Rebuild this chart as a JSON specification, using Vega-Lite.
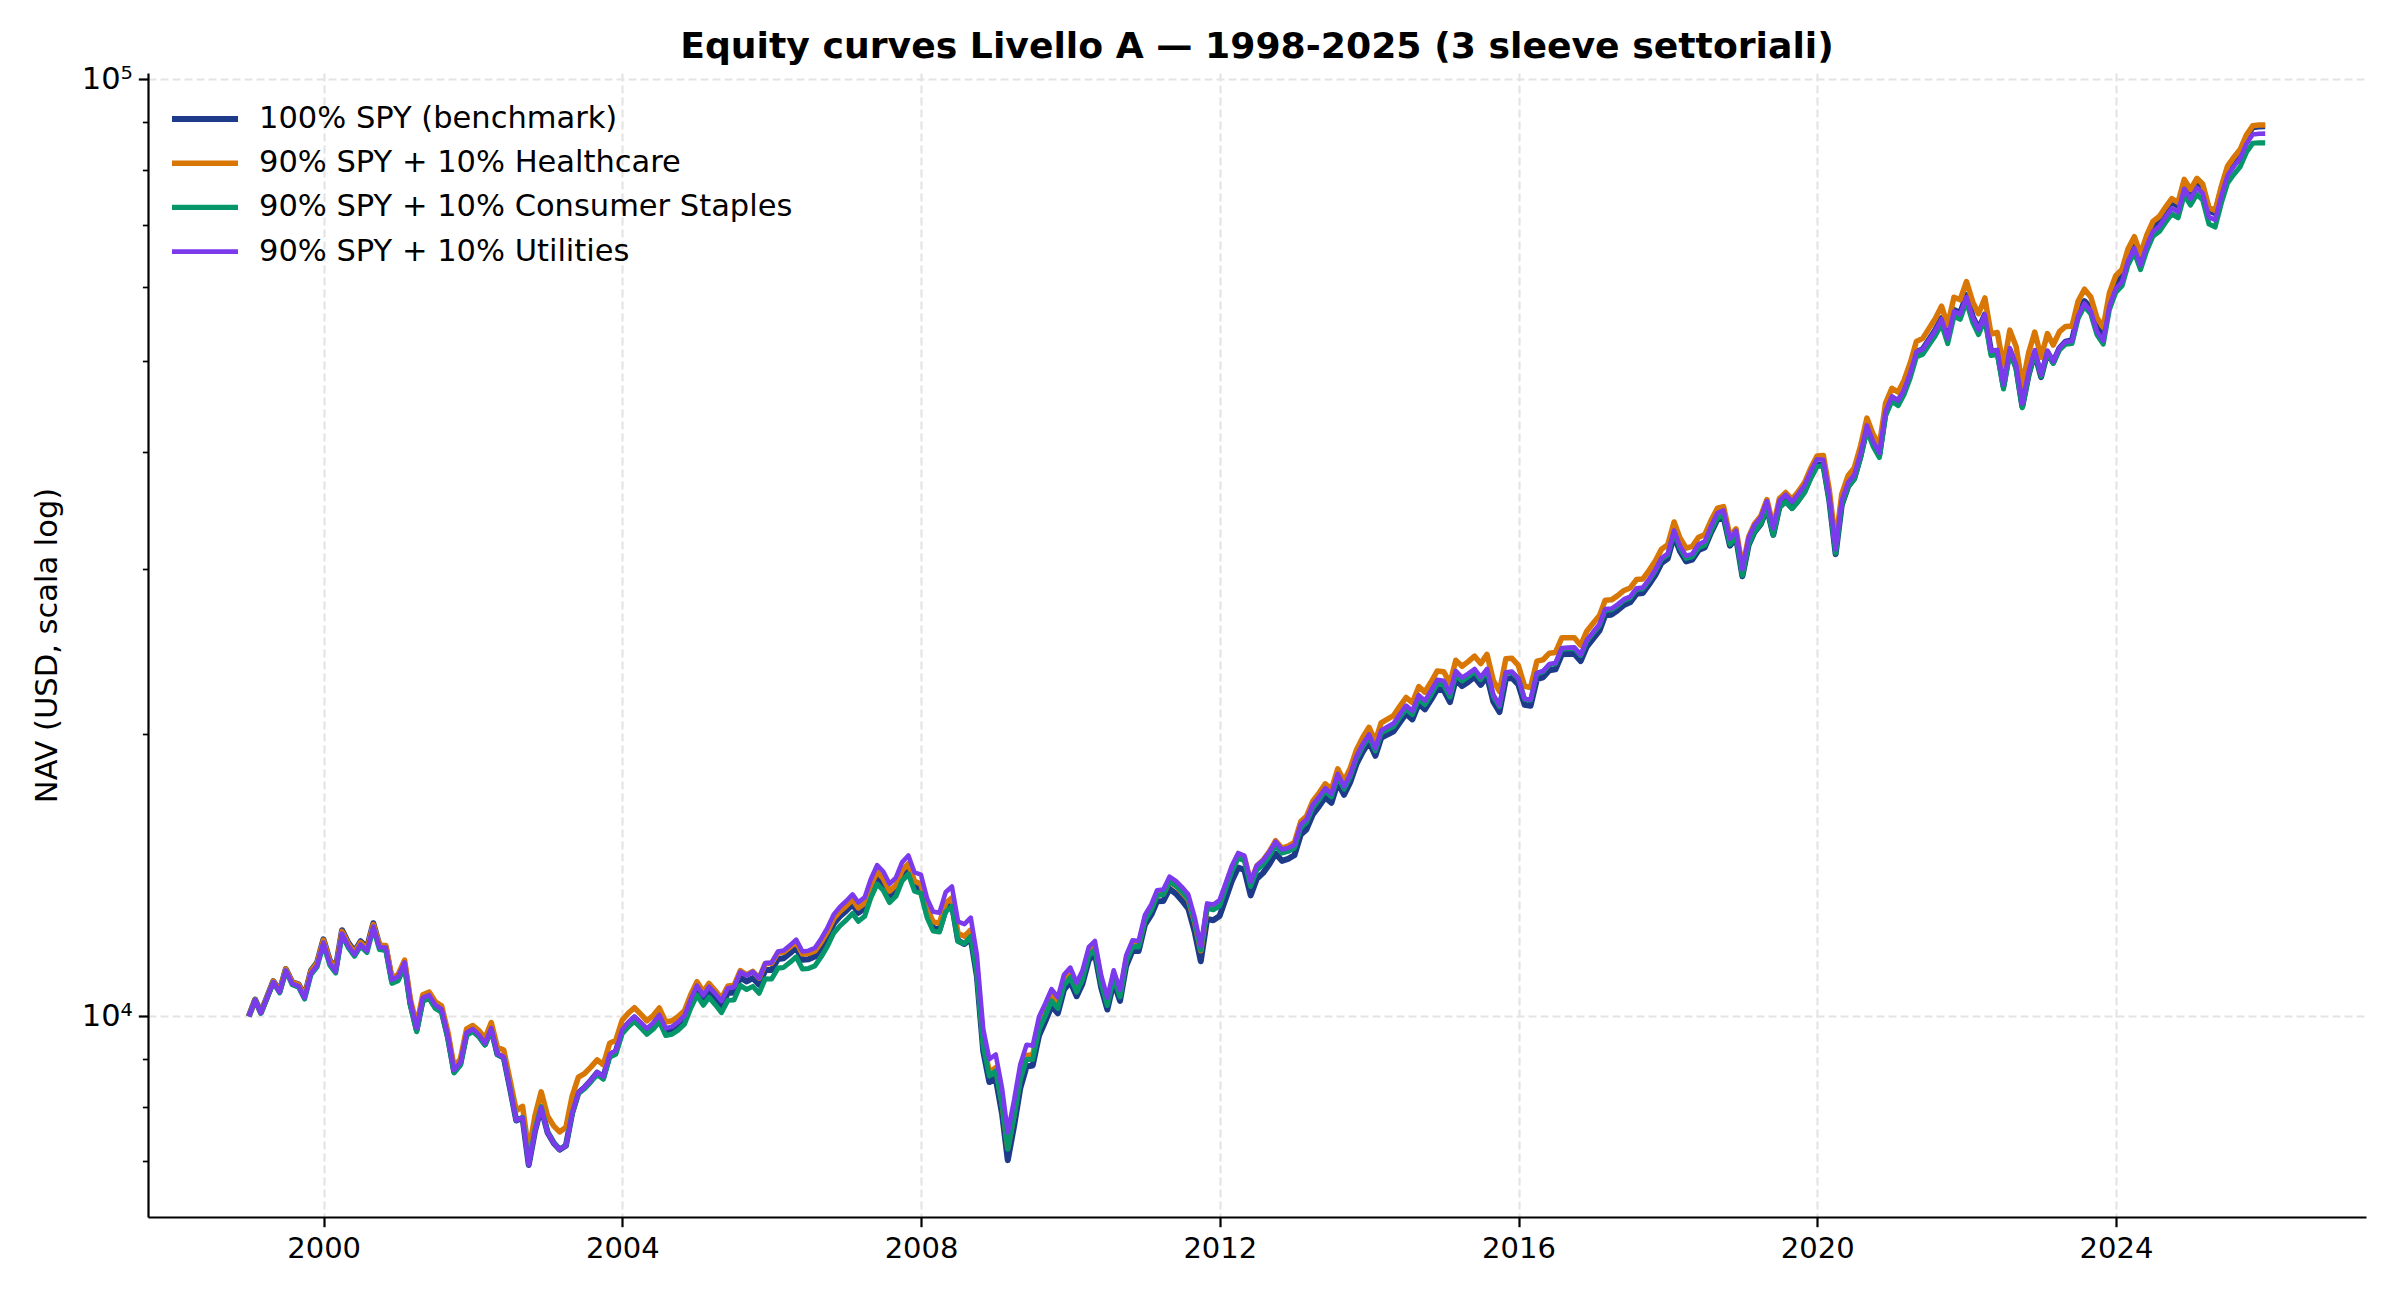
{
  "$schema": "https://vega.github.io/schema/vega-lite/v6.json",
  "width": 2218,
  "height": 1144,
  "autosize": {"type": "none"},
  "padding": {"left": 148, "top": 73, "right": 34, "bottom": 83},
  "background": "white",
  "config": {"view": {"stroke": null}, "font": "DejaVu Sans"},
  "title": {
    "text": "Equity curves Livello A — 1998-2025 (3 sleeve settoriali)",
    "font": "DejaVu Sans",
    "fontSize": 36.2,
    "fontWeight": "bold",
    "color": "black",
    "anchor": "middle",
    "baseline": "alphabetic",
    "offset": -30
  },
  "data": {
    "values": [
      {"d":"1998-12-31","spy":10000,"hc":10000,"cs":10000,"ut":10000},
      {"d":"1999-01-31","spy":10420,"hc":10420,"cs":10412,"ut":10415},
      {"d":"1999-02-28","spy":10093,"hc":10093,"cs":10076,"ut":10083},
      {"d":"1999-03-31","spy":10494,"hc":10494,"cs":10468,"ut":10478},
      {"d":"1999-04-30","spy":10902,"hc":10902,"cs":10866,"ut":10880},
      {"d":"1999-05-31","spy":10639,"hc":10639,"cs":10594,"ut":10612},
      {"d":"1999-06-30","spy":11229,"hc":11229,"cs":11173,"ut":11195},
      {"d":"1999-07-31","spy":10879,"hc":10876,"cs":10812,"ut":10838},
      {"d":"1999-08-31","spy":10821,"hc":10813,"cs":10742,"ut":10770},
      {"d":"1999-09-30","spy":10521,"hc":10510,"cs":10432,"ut":10463},
      {"d":"1999-10-31","spy":11189,"hc":11174,"cs":11080,"ut":11119},
      {"d":"1999-11-30","spy":11413,"hc":11394,"cs":11290,"ut":11331},
      {"d":"1999-12-31","spy":12084,"hc":12060,"cs":11939,"ut":11987},
      {"d":"2000-01-31","spy":11479,"hc":11453,"cs":11341,"ut":11387},
      {"d":"2000-02-29","spy":11258,"hc":11228,"cs":11123,"ut":11168},
      {"d":"2000-03-31","spy":12358,"hc":12321,"cs":12210,"ut":12259},
      {"d":"2000-04-30","spy":11987,"hc":11951,"cs":11843,"ut":11891},
      {"d":"2000-05-31","spy":11735,"hc":11700,"cs":11594,"ut":11641},
      {"d":"2000-06-30","spy":12026,"hc":11990,"cs":11882,"ut":11930},
      {"d":"2000-07-31","spy":11840,"hc":11804,"cs":11698,"ut":11745},
      {"d":"2000-08-31","spy":12570,"hc":12532,"cs":12419,"ut":12469},
      {"d":"2000-09-30","spy":11908,"hc":11912,"cs":11785,"ut":11851},
      {"d":"2000-10-31","spy":11859,"hc":11901,"cs":11758,"ut":11841},
      {"d":"2000-11-30","spy":10919,"hc":10993,"cs":10845,"ut":10939},
      {"d":"2000-12-31","spy":10973,"hc":11083,"cs":10918,"ut":11028},
      {"d":"2001-01-31","spy":11365,"hc":11482,"cs":11310,"ut":11420},
      {"d":"2001-02-28","spy":10326,"hc":10436,"cs":10277,"ut":10375},
      {"d":"2001-03-31","spy":9674,"hc":9780,"cs":9630,"ut":9718},
      {"d":"2001-04-30","spy":10427,"hc":10545,"cs":10382,"ut":10472},
      {"d":"2001-05-31","spy":10491,"hc":10614,"cs":10447,"ut":10535},
      {"d":"2001-06-30","spy":10240,"hc":10363,"cs":10199,"ut":10281},
      {"d":"2001-07-31","spy":10140,"hc":10262,"cs":10101,"ut":10179},
      {"d":"2001-08-31","spy":9500,"hc":9614,"cs":9465,"ut":9535},
      {"d":"2001-09-30","spy":8732,"hc":8837,"cs":8701,"ut":8763},
      {"d":"2001-10-31","spy":8900,"hc":9007,"cs":8871,"ut":8929},
      {"d":"2001-11-30","spy":9578,"hc":9693,"cs":9547,"ut":9609},
      {"d":"2001-12-31","spy":9661,"hc":9777,"cs":9632,"ut":9690},
      {"d":"2002-01-31","spy":9523,"hc":9650,"cs":9500,"ut":9549},
      {"d":"2002-02-28","spy":9337,"hc":9474,"cs":9320,"ut":9359},
      {"d":"2002-03-31","spy":9693,"hc":9848,"cs":9681,"ut":9713},
      {"d":"2002-04-30","spy":9109,"hc":9267,"cs":9104,"ut":9125},
      {"d":"2002-05-31","spy":9038,"hc":9207,"cs":9038,"ut":9052},
      {"d":"2002-06-30","spy":8394,"hc":8562,"cs":8399,"ut":8404},
      {"d":"2002-07-31","spy":7741,"hc":7931,"cs":7750,"ut":7748},
      {"d":"2002-08-31","spy":7789,"hc":8015,"cs":7803,"ut":7794},
      {"d":"2002-09-30","spy":6940,"hc":7172,"cs":6957,"ut":6942},
      {"d":"2002-10-31","spy":7550,"hc":7837,"cs":7573,"ut":7550},
      {"d":"2002-11-30","spy":7991,"hc":8307,"cs":8010,"ut":7991},
      {"d":"2002-12-31","spy":7519,"hc":7829,"cs":7533,"ut":7519},
      {"d":"2003-01-31","spy":7322,"hc":7635,"cs":7331,"ut":7322},
      {"d":"2003-02-28","spy":7207,"hc":7527,"cs":7211,"ut":7207},
      {"d":"2003-03-31","spy":7277,"hc":7612,"cs":7277,"ut":7277},
      {"d":"2003-04-30","spy":7877,"hc":8210,"cs":7870,"ut":7879},
      {"d":"2003-05-31","spy":8289,"hc":8610,"cs":8274,"ut":8292},
      {"d":"2003-06-30","spy":8394,"hc":8688,"cs":8371,"ut":8400},
      {"d":"2003-07-31","spy":8541,"hc":8827,"cs":8510,"ut":8549},
      {"d":"2003-08-31","spy":8706,"hc":8985,"cs":8668,"ut":8716},
      {"d":"2003-09-30","spy":8613,"hc":8876,"cs":8567,"ut":8624},
      {"d":"2003-10-31","spy":9098,"hc":9362,"cs":9042,"ut":9113},
      {"d":"2003-11-30","spy":9175,"hc":9427,"cs":9110,"ut":9192},
      {"d":"2003-12-31","spy":9654,"hc":9905,"cs":9577,"ut":9673},
      {"d":"2004-01-31","spy":9834,"hc":10083,"cs":9749,"ut":9859},
      {"d":"2004-02-29","spy":9968,"hc":10214,"cs":9876,"ut":9998},
      {"d":"2004-03-31","spy":9818,"hc":10054,"cs":9722,"ut":9852},
      {"d":"2004-04-30","spy":9666,"hc":9891,"cs":9566,"ut":9705},
      {"d":"2004-05-31","spy":9797,"hc":10019,"cs":9690,"ut":9841},
      {"d":"2004-06-30","spy":9986,"hc":10206,"cs":9871,"ut":10036},
      {"d":"2004-07-31","spy":9657,"hc":9863,"cs":9540,"ut":9710},
      {"d":"2004-08-31","spy":9692,"hc":9893,"cs":9569,"ut":9750},
      {"d":"2004-09-30","spy":9797,"hc":9993,"cs":9667,"ut":9861},
      {"d":"2004-10-31","spy":9947,"hc":10139,"cs":9810,"ut":10017},
      {"d":"2004-11-30","spy":10345,"hc":10538,"cs":10196,"ut":10423},
      {"d":"2004-12-31","spy":10696,"hc":10889,"cs":10536,"ut":10782},
      {"d":"2005-01-31","spy":10440,"hc":10626,"cs":10277,"ut":10532},
      {"d":"2005-02-28","spy":10653,"hc":10842,"cs":10480,"ut":10756},
      {"d":"2005-03-31","spy":10464,"hc":10647,"cs":10288,"ut":10574},
      {"d":"2005-04-30","spy":10269,"hc":10447,"cs":10091,"ut":10385},
      {"d":"2005-05-31","spy":10592,"hc":10774,"cs":10402,"ut":10721},
      {"d":"2005-06-30","spy":10605,"hc":10785,"cs":10409,"ut":10743},
      {"d":"2005-07-31","spy":11003,"hc":11188,"cs":10793,"ut":11155},
      {"d":"2005-08-31","spy":10895,"hc":11077,"cs":10680,"ut":11055},
      {"d":"2005-09-30","spy":10987,"hc":11168,"cs":10764,"ut":11157},
      {"d":"2005-10-31","spy":10807,"hc":10983,"cs":10582,"ut":10983},
      {"d":"2005-11-30","spy":11204,"hc":11386,"cs":10964,"ut":11397},
      {"d":"2005-12-31","spy":11209,"hc":11388,"cs":10962,"ut":11411},
      {"d":"2006-01-31","spy":11512,"hc":11693,"cs":11258,"ut":11725},
      {"d":"2006-02-28","spy":11534,"hc":11710,"cs":11278,"ut":11753},
      {"d":"2006-03-31","spy":11679,"hc":11854,"cs":11419,"ut":11907},
      {"d":"2006-04-30","spy":11839,"hc":12013,"cs":11575,"ut":12076},
      {"d":"2006-05-31","spy":11491,"hc":11655,"cs":11234,"ut":11727},
      {"d":"2006-06-30","spy":11509,"hc":11670,"cs":11250,"ut":11751},
      {"d":"2006-07-31","spy":11584,"hc":11743,"cs":11322,"ut":11833},
      {"d":"2006-08-31","spy":11848,"hc":12006,"cs":11579,"ut":12109},
      {"d":"2006-09-30","spy":12157,"hc":12315,"cs":11880,"ut":12431},
      {"d":"2006-10-31","spy":12559,"hc":12718,"cs":12273,"ut":12848},
      {"d":"2006-11-30","spy":12785,"hc":12942,"cs":12492,"ut":13085},
      {"d":"2006-12-31","spy":12965,"hc":13121,"cs":12667,"ut":13276},
      {"d":"2007-01-31","spy":13167,"hc":13325,"cs":12877,"ut":13495},
      {"d":"2007-02-28","spy":12899,"hc":13054,"cs":12628,"ut":13232},
      {"d":"2007-03-31","spy":13047,"hc":13204,"cs":12786,"ut":13395},
      {"d":"2007-04-30","spy":13632,"hc":13796,"cs":13373,"ut":14008},
      {"d":"2007-05-31","spy":14097,"hc":14266,"cs":13843,"ut":14499},
      {"d":"2007-06-30","spy":13867,"hc":14033,"cs":13631,"ut":14275},
      {"d":"2007-07-31","spy":13443,"hc":13604,"cs":13228,"ut":13850},
      {"d":"2007-08-31","spy":13636,"hc":13800,"cs":13431,"ut":14061},
      {"d":"2007-09-30","spy":14145,"hc":14315,"cs":13947,"ut":14599},
      {"d":"2007-10-31","spy":14376,"hc":14549,"cs":14189,"ut":14850},
      {"d":"2007-11-30","spy":13763,"hc":13939,"cs":13603,"ut":14243},
      {"d":"2007-12-31","spy":13665,"hc":13849,"cs":13524,"ut":14168},
      {"d":"2008-01-31","spy":12852,"hc":13036,"cs":12738,"ut":13348},
      {"d":"2008-02-29","spy":12428,"hc":12614,"cs":12335,"ut":12931},
      {"d":"2008-03-31","spy":12377,"hc":12573,"cs":12302,"ut":12902},
      {"d":"2008-04-30","spy":12989,"hc":13203,"cs":12927,"ut":13564},
      {"d":"2008-05-31","spy":13151,"hc":13379,"cs":13106,"ut":13757},
      {"d":"2008-06-30","spy":12043,"hc":12260,"cs":12019,"ut":12621},
      {"d":"2008-07-31","spy":11945,"hc":12176,"cs":11961,"ut":12542},
      {"d":"2008-08-31","spy":12113,"hc":12364,"cs":12170,"ut":12743},
      {"d":"2008-09-30","spy":11033,"hc":11276,"cs":11121,"ut":11629},
      {"d":"2008-10-31","spy":9180,"hc":9394,"cs":9284,"ut":9694},
      {"d":"2008-11-30","spy":8508,"hc":8718,"cs":8633,"ut":9001},
      {"d":"2008-12-31","spy":8590,"hc":8813,"cs":8745,"ut":9105},
      {"d":"2009-01-31","spy":7872,"hc":8092,"cs":8049,"ut":8384},
      {"d":"2009-02-28","spy":7023,"hc":7234,"cs":7213,"ut":7515},
      {"d":"2009-03-31","spy":7640,"hc":7863,"cs":7823,"ut":8137},
      {"d":"2009-04-30","spy":8376,"hc":8614,"cs":8552,"ut":8879},
      {"d":"2009-05-31","spy":8840,"hc":9084,"cs":8999,"ut":9326},
      {"d":"2009-06-30","spy":8862,"hc":9100,"cs":8995,"ut":9305},
      {"d":"2009-07-31","spy":9540,"hc":9788,"cs":9675,"ut":9993},
      {"d":"2009-08-31","spy":9882,"hc":10131,"cs":10013,"ut":10327},
      {"d":"2009-09-30","spy":10257,"hc":10507,"cs":10385,"ut":10693},
      {"d":"2009-10-31","spy":10077,"hc":10315,"cs":10195,"ut":10480},
      {"d":"2009-11-30","spy":10678,"hc":10921,"cs":10793,"ut":11078},
      {"d":"2009-12-31","spy":10892,"hc":11132,"cs":11001,"ut":11273},
      {"d":"2010-01-31","spy":10507,"hc":10731,"cs":10612,"ut":10865},
      {"d":"2010-02-28","spy":10825,"hc":11049,"cs":10933,"ut":11184},
      {"d":"2010-03-31","spy":11480,"hc":11710,"cs":11595,"ut":11851},
      {"d":"2010-04-30","spy":11669,"hc":11894,"cs":11786,"ut":12034},
      {"d":"2010-05-31","spy":10730,"hc":10931,"cs":10837,"ut":11056},
      {"d":"2010-06-30","spy":10169,"hc":10352,"cs":10271,"ut":10469},
      {"d":"2010-07-31","spy":10886,"hc":11074,"cs":10995,"ut":11197},
      {"d":"2010-08-31","spy":10386,"hc":10559,"cs":10490,"ut":10674},
      {"d":"2010-09-30","spy":11314,"hc":11495,"cs":11427,"ut":11617},
      {"d":"2010-10-31","spy":11751,"hc":11931,"cs":11869,"ut":12054},
      {"d":"2010-11-30","spy":11743,"hc":11916,"cs":11860,"ut":12035},
      {"d":"2010-12-31","spy":12530,"hc":12705,"cs":12655,"ut":12831},
      {"d":"2011-01-31","spy":12836,"hc":13029,"cs":12990,"ut":13165},
      {"d":"2011-02-28","spy":13270,"hc":13482,"cs":13456,"ut":13630},
      {"d":"2011-03-31","spy":13279,"hc":13505,"cs":13491,"ut":13660},
      {"d":"2011-04-30","spy":13681,"hc":13927,"cs":13927,"ut":14094},
      {"d":"2011-05-31","spy":13520,"hc":13777,"cs":13790,"ut":13950},
      {"d":"2011-06-30","spy":13296,"hc":13562,"cs":13589,"ut":13739},
      {"d":"2011-07-31","spy":13033,"hc":13320,"cs":13346,"ut":13488},
      {"d":"2011-08-31","spy":12314,"hc":12610,"cs":12634,"ut":12762},
      {"d":"2011-09-30","spy":11450,"hc":11748,"cs":11771,"ut":11885},
      {"d":"2011-10-31","spy":12706,"hc":13062,"cs":13049,"ut":13198},
      {"d":"2011-11-30","spy":12663,"hc":13043,"cs":12992,"ut":13161},
      {"d":"2011-12-31","spy":12793,"hc":13202,"cs":13113,"ut":13305},
      {"d":"2012-01-31","spy":13377,"hc":13805,"cs":13703,"ut":13896},
      {"d":"2012-02-29","spy":13948,"hc":14394,"cs":14280,"ut":14474},
      {"d":"2012-03-31","spy":14413,"hc":14874,"cs":14749,"ut":14939},
      {"d":"2012-04-30","spy":14334,"hc":14793,"cs":14659,"ut":14840},
      {"d":"2012-05-31","spy":13462,"hc":13893,"cs":13760,"ut":13922},
      {"d":"2012-06-30","spy":14022,"hc":14471,"cs":14323,"ut":14485},
      {"d":"2012-07-31","spy":14227,"hc":14682,"cs":14524,"ut":14679},
      {"d":"2012-08-31","spy":14537,"hc":15002,"cs":14832,"ut":14983},
      {"d":"2012-09-30","spy":14919,"hc":15396,"cs":15214,"ut":15359},
      {"d":"2012-10-31","spy":14652,"hc":15121,"cs":14933,"ut":15067},
      {"d":"2012-11-30","spy":14723,"hc":15194,"cs":14997,"ut":15123},
      {"d":"2012-12-31","spy":14856,"hc":15331,"cs":15123,"ut":15242},
      {"d":"2013-01-31","spy":15631,"hc":16136,"cs":15905,"ut":16026},
      {"d":"2013-02-28","spy":15830,"hc":16348,"cs":16099,"ut":16221},
      {"d":"2013-03-31","spy":16427,"hc":16969,"cs":16698,"ut":16821},
      {"d":"2013-04-30","spy":16752,"hc":17310,"cs":17020,"ut":17142},
      {"d":"2013-05-31","spy":17128,"hc":17705,"cs":17393,"ut":17517},
      {"d":"2013-06-30","spy":16899,"hc":17474,"cs":17152,"ut":17271},
      {"d":"2013-07-31","spy":17764,"hc":18373,"cs":18022,"ut":18142},
      {"d":"2013-08-31","spy":17236,"hc":17834,"cs":17477,"ut":17593},
      {"d":"2013-09-30","spy":17778,"hc":18400,"cs":18018,"ut":18134},
      {"d":"2013-10-31","spy":18602,"hc":19259,"cs":18844,"ut":18961},
      {"d":"2013-11-30","spy":19155,"hc":19839,"cs":19394,"ut":19513},
      {"d":"2013-12-31","spy":19638,"hc":20345,"cs":19874,"ut":19991},
      {"d":"2014-01-31","spy":18970,"hc":19668,"cs":19198,"ut":19319},
      {"d":"2014-02-28","spy":19820,"hc":20567,"cs":20058,"ut":20193},
      {"d":"2014-03-31","spy":19990,"hc":20760,"cs":20230,"ut":20376},
      {"d":"2014-04-30","spy":20146,"hc":20938,"cs":20388,"ut":20543},
      {"d":"2014-05-31","spy":20603,"hc":21431,"cs":20850,"ut":21017},
      {"d":"2014-06-30","spy":21030,"hc":21892,"cs":21282,"ut":21461},
      {"d":"2014-07-31","spy":20746,"hc":21613,"cs":20995,"ut":21180},
      {"d":"2014-08-31","spy":21562,"hc":22483,"cs":21821,"ut":22021},
      {"d":"2014-09-30","spy":21261,"hc":22186,"cs":21516,"ut":21724},
      {"d":"2014-10-31","spy":21789,"hc":22754,"cs":22050,"ut":22273},
      {"d":"2014-11-30","spy":22359,"hc":23370,"cs":22627,"ut":22864},
      {"d":"2014-12-31","spy":22301,"hc":23327,"cs":22569,"ut":22814},
      {"d":"2015-01-31","spy":21648,"hc":22672,"cs":21912,"ut":22131},
      {"d":"2015-02-28","spy":22876,"hc":23988,"cs":23157,"ut":23372},
      {"d":"2015-03-31","spy":22517,"hc":23641,"cs":22798,"ut":22990},
      {"d":"2015-04-30","spy":22748,"hc":23910,"cs":23037,"ut":23210},
      {"d":"2015-05-31","spy":23027,"hc":24234,"cs":23322,"ut":23481},
      {"d":"2015-06-30","spy":22582,"hc":23795,"cs":22876,"ut":23011},
      {"d":"2015-07-31","spy":23068,"hc":24337,"cs":23373,"ut":23490},
      {"d":"2015-08-31","spy":21662,"hc":22823,"cs":21950,"ut":22045},
      {"d":"2015-09-30","spy":21125,"hc":22228,"cs":21410,"ut":21484},
      {"d":"2015-10-31","spy":22918,"hc":24082,"cs":23232,"ut":23292},
      {"d":"2015-11-30","spy":22969,"hc":24104,"cs":23286,"ut":23330},
      {"d":"2015-12-31","spy":22605,"hc":23690,"cs":22921,"ut":22944},
      {"d":"2016-01-31","spy":21498,"hc":22508,"cs":21797,"ut":21823},
      {"d":"2016-02-29","spy":21449,"hc":22436,"cs":21745,"ut":21775},
      {"d":"2016-03-31","spy":22906,"hc":23937,"cs":23222,"ut":23256},
      {"d":"2016-04-30","spy":23009,"hc":24021,"cs":23324,"ut":23361},
      {"d":"2016-05-31","spy":23405,"hc":24411,"cs":23723,"ut":23765},
      {"d":"2016-06-30","spy":23468,"hc":24454,"cs":23785,"ut":23832},
      {"d":"2016-07-31","spy":24348,"hc":25354,"cs":24674,"ut":24728},
      {"d":"2016-08-31","spy":24362,"hc":25354,"cs":24686,"ut":24744},
      {"d":"2016-09-30","spy":24376,"hc":25351,"cs":24700,"ut":24761},
      {"d":"2016-10-31","spy":23946,"hc":24887,"cs":24262,"ut":24324},
      {"d":"2016-11-30","spy":24809,"hc":25769,"cs":25134,"ut":25203},
      {"d":"2016-12-31","spy":25306,"hc":26268,"cs":25635,"ut":25711},
      {"d":"2017-01-31","spy":25800,"hc":26773,"cs":26128,"ut":26205},
      {"d":"2017-02-28","spy":26803,"hc":27803,"cs":27133,"ut":27213},
      {"d":"2017-03-31","spy":26836,"hc":27829,"cs":27158,"ut":27239},
      {"d":"2017-04-30","spy":27124,"hc":28119,"cs":27441,"ut":27523},
      {"d":"2017-05-31","spy":27482,"hc":28480,"cs":27793,"ut":27875},
      {"d":"2017-06-30","spy":27659,"hc":28655,"cs":27963,"ut":28046},
      {"d":"2017-07-31","spy":28240,"hc":29248,"cs":28542,"ut":28627},
      {"d":"2017-08-31","spy":28300,"hc":29299,"cs":28591,"ut":28676},
      {"d":"2017-09-30","spy":28893,"hc":29904,"cs":29182,"ut":29269},
      {"d":"2017-10-31","spy":29581,"hc":30607,"cs":29868,"ut":29957},
      {"d":"2017-11-30","spy":30461,"hc":31506,"cs":30744,"ut":30836},
      {"d":"2017-12-31","spy":30809,"hc":31857,"cs":31086,"ut":31179},
      {"d":"2018-01-31","spy":32597,"hc":33696,"cs":32871,"ut":33004},
      {"d":"2018-02-28","spy":31382,"hc":32427,"cs":31627,"ut":31790},
      {"d":"2018-03-31","spy":30592,"hc":31602,"cs":30815,"ut":31005},
      {"d":"2018-04-30","spy":30729,"hc":31734,"cs":30935,"ut":31159},
      {"d":"2018-05-31","spy":31447,"hc":32463,"cs":31639,"ut":31903},
      {"d":"2018-06-30","spy":31654,"hc":32667,"cs":31828,"ut":32129},
      {"d":"2018-07-31","spy":32851,"hc":33837,"cs":33012,"ut":33360},
      {"d":"2018-08-31","spy":33904,"hc":34853,"cs":34050,"ut":34446},
      {"d":"2018-09-30","spy":34108,"hc":34995,"cs":34238,"ut":34671},
      {"d":"2018-10-31","spy":31796,"hc":32559,"cs":31898,"ut":32337},
      {"d":"2018-11-30","spy":32419,"hc":33132,"cs":32503,"ut":32986},
      {"d":"2018-12-31","spy":29494,"hc":30084,"cs":29553,"ut":30025},
      {"d":"2019-01-31","spy":31867,"hc":32511,"cs":31915,"ut":32431},
      {"d":"2019-02-28","spy":32869,"hc":33536,"cs":32902,"ut":33438},
      {"d":"2019-03-31","spy":33514,"hc":34201,"cs":33531,"ut":34084},
      {"d":"2019-04-30","spy":34889,"hc":35611,"cs":34889,"ut":35472},
      {"d":"2019-05-31","spy":32648,"hc":33327,"cs":32632,"ut":33180},
      {"d":"2019-06-30","spy":34956,"hc":35690,"cs":34921,"ut":35515},
      {"d":"2019-07-31","spy":35474,"hc":36226,"cs":35421,"ut":36031},
      {"d":"2019-08-31","spy":34889,"hc":35632,"cs":34819,"ut":35423},
      {"d":"2019-09-30","spy":35547,"hc":36311,"cs":35458,"ut":36080},
      {"d":"2019-10-31","spy":36333,"hc":37121,"cs":36224,"ut":36867},
      {"d":"2019-11-30","spy":37632,"hc":38452,"cs":37500,"ut":38170},
      {"d":"2019-12-31","spy":38771,"hc":39624,"cs":38616,"ut":39314},
      {"d":"2020-01-31","spy":38759,"hc":39689,"cs":38681,"ut":39274},
      {"d":"2020-02-29","spy":35546,"hc":36470,"cs":35546,"ut":35997},
      {"d":"2020-03-31","spy":31140,"hc":32012,"cs":31202,"ut":31514},
      {"d":"2020-04-30","spy":35136,"hc":36095,"cs":35161,"ut":35519},
      {"d":"2020-05-31","spy":36776,"hc":37758,"cs":36750,"ut":37136},
      {"d":"2020-06-30","spy":37502,"hc":38477,"cs":37427,"ut":37828},
      {"d":"2020-07-31","spy":39620,"hc":40622,"cs":39489,"ut":39921},
      {"d":"2020-08-31","spy":42452,"hc":43501,"cs":42252,"ut":42724},
      {"d":"2020-09-30","spy":40841,"hc":41821,"cs":40596,"ut":41057},
      {"d":"2020-10-31","spy":39763,"hc":40689,"cs":39473,"ut":39930},
      {"d":"2020-11-30","spy":44098,"hc":45099,"cs":43714,"ut":44235},
      {"d":"2020-12-31","spy":45795,"hc":46802,"cs":45337,"ut":45887},
      {"d":"2021-01-31","spy":45332,"hc":46375,"cs":44856,"ut":45400},
      {"d":"2021-02-28","spy":46563,"hc":47681,"cs":46051,"ut":46610},
      {"d":"2021-03-31","spy":48590,"hc":49805,"cs":48031,"ut":48614},
      {"d":"2021-04-30","spy":51190,"hc":52521,"cs":50576,"ut":51190},
      {"d":"2021-05-31","spy":51524,"hc":52915,"cs":50880,"ut":51498},
      {"d":"2021-06-30","spy":52724,"hc":54200,"cs":52039,"ut":52671},
      {"d":"2021-07-31","spy":53979,"hc":55544,"cs":53250,"ut":53898},
      {"d":"2021-08-31","spy":55601,"hc":57269,"cs":54823,"ut":55490},
      {"d":"2021-09-30","spy":53011,"hc":54654,"cs":52242,"ut":52878},
      {"d":"2021-10-31","spy":56735,"hc":58551,"cs":55884,"ut":56565},
      {"d":"2021-11-30","spy":56320,"hc":58179,"cs":55447,"ut":56123},
      {"d":"2021-12-31","spy":58837,"hc":60837,"cs":57896,"ut":58602},
      {"d":"2022-01-31","spy":55815,"hc":57841,"cs":55000,"ut":55659},
      {"d":"2022-02-28","spy":54132,"hc":56227,"cs":53417,"ut":54045},
      {"d":"2022-03-31","spy":56138,"hc":58440,"cs":55476,"ut":56116},
      {"d":"2022-04-30","spy":51264,"hc":53484,"cs":50731,"ut":51305},
      {"d":"2022-05-31","spy":51331,"hc":53677,"cs":50869,"ut":51434},
      {"d":"2022-06-30","spy":47082,"hc":49342,"cs":46724,"ut":47233},
      {"d":"2022-07-31","spy":51435,"hc":53996,"cs":51116,"ut":51661},
      {"d":"2022-08-31","spy":49313,"hc":51853,"cs":49076,"ut":49589},
      {"d":"2022-09-30","spy":44763,"hc":47149,"cs":44611,"ut":45067},
      {"d":"2022-10-31","spy":48398,"hc":51060,"cs":48301,"ut":48785},
      {"d":"2022-11-30","spy":51062,"hc":53743,"cs":51062,"ut":51419},
      {"d":"2022-12-31","spy":48110,"hc":50516,"cs":48206,"ut":48399},
      {"d":"2023-01-31","spy":51141,"hc":53545,"cs":51136,"ut":51361},
      {"d":"2023-02-28","spy":49866,"hc":52060,"cs":49756,"ut":50001},
      {"d":"2023-03-31","spy":51675,"hc":53794,"cs":51453,"ut":51727},
      {"d":"2023-04-30","spy":52496,"hc":54491,"cs":52165,"ut":52459},
      {"d":"2023-05-31","spy":52689,"hc":54533,"cs":52246,"ut":52568},
      {"d":"2023-06-30","spy":56167,"hc":57964,"cs":55577,"ut":55942},
      {"d":"2023-07-31","spy":57985,"hc":59707,"cs":57254,"ut":57654},
      {"d":"2023-08-31","spy":57026,"hc":58583,"cs":56188,"ut":56610},
      {"d":"2023-09-30","spy":54313,"hc":55671,"cs":53401,"ut":53824},
      {"d":"2023-10-31","spy":53182,"hc":54389,"cs":52182,"ut":52613},
      {"d":"2023-11-30","spy":57994,"hc":59171,"cs":56782,"ut":57281},
      {"d":"2023-12-31","spy":60632,"hc":61723,"cs":59237,"ut":59783},
      {"d":"2024-01-31","spy":61662,"hc":62692,"cs":60207,"ut":60793},
      {"d":"2024-02-29","spy":64919,"hc":65912,"cs":63348,"ut":63997},
      {"d":"2024-03-31","spy":67002,"hc":67940,"cs":65340,"ut":66044},
      {"d":"2024-04-30","spy":64281,"hc":65097,"cs":62655,"ut":63362},
      {"d":"2024-05-31","spy":67437,"hc":68199,"cs":65690,"ut":66466},
      {"d":"2024-06-30","spy":69847,"hc":70545,"cs":67996,"ut":68834},
      {"d":"2024-07-31","spy":70711,"hc":71397,"cs":68795,"ut":69679},
      {"d":"2024-08-31","spy":72401,"hc":73074,"cs":70395,"ut":71337},
      {"d":"2024-09-30","spy":73940,"hc":74605,"cs":71848,"ut":72846},
      {"d":"2024-10-31","spy":73283,"hc":73921,"cs":71172,"ut":72198},
      {"d":"2024-11-30","spy":77562,"hc":78206,"cs":75282,"ut":76406},
      {"d":"2024-12-31","spy":75702,"hc":76308,"cs":73431,"ut":74566},
      {"d":"2025-01-31","spy":77820,"hc":78419,"cs":75423,"ut":76629},
      {"d":"2025-02-28","spy":76786,"hc":77347,"cs":74352,"ut":75596},
      {"d":"2025-03-31","spy":72436,"hc":72943,"cs":70082,"ut":71292},
      {"d":"2025-04-30","spy":71952,"hc":72434,"cs":69556,"ut":70801},
      {"d":"2025-05-31","spy":76452,"hc":76934,"cs":73837,"ut":75206},
      {"d":"2025-06-30","spy":80321,"hc":80803,"cs":77510,"ut":78996},
      {"d":"2025-07-31","spy":82140,"hc":82592,"cs":79199,"ut":80760},
      {"d":"2025-08-31","spy":83785,"hc":84204,"cs":80710,"ut":82361},
      {"d":"2025-09-30","spy":86828,"hc":87219,"cs":83572,"ut":85326},
      {"d":"2025-10-31","spy":88882,"hc":89238,"cs":85478,"ut":87327},
      {"d":"2025-11-30","spy":89081,"hc":89393,"cs":85589,"ut":87495},
      {"d":"2025-12-31","spy":89120,"hc":89387,"cs":85555,"ut":87516}
    ]
  },
  "transform": [{"fold": ["spy", "hc", "cs", "ut"], "as": ["serie", "nav"]}],
  "mark": {"type": "line", "strokeJoin": "round", "clip": true},
  "encoding": {
    "x": {
      "field": "d",
      "type": "temporal",
      "scale": {"domain": [{"year": 1997, "month": 8, "date": 25}, {"year": 2027, "month": 5, "date": 8}]},
      "axis": {
        "title": null,
        "values": [
          {"year": 2000, "month": 1, "date": 1}, {"year": 2004, "month": 1, "date": 1},
          {"year": 2008, "month": 1, "date": 1}, {"year": 2012, "month": 1, "date": 1},
          {"year": 2016, "month": 1, "date": 1}, {"year": 2020, "month": 1, "date": 1},
          {"year": 2024, "month": 1, "date": 1}
        ],
        "format": "%Y",
        "labelFont": "DejaVu Sans",
        "labelFontSize": 29,
        "labelColor": "black",
        "labelPadding": 8,
        "labelFlush": false,
        "labelOverlap": false,
        "tickSize": 9.7,
        "tickWidth": 2.2,
        "tickColor": "black",
        "domainColor": "black",
        "domainWidth": 2.2,
        "grid": true,
        "gridColor": "#e4e4e4",
        "gridWidth": 2.2,
        "gridDash": [8, 4]
      }
    },
    "y": {
      "field": "nav",
      "type": "quantitative",
      "scale": {"type": "log", "domain": [6107, 101580], "nice": false, "zero": false},
      "axis": {
        "title": "NAV (USD, scala log)",
        "titleFont": "DejaVu Sans",
        "titleFontSize": 30.5,
        "titleFontWeight": "normal",
        "titleColor": "black",
        "titlePadding": 19,
        "values": [7000, 8000, 9000, 10000, 20000, 30000, 40000, 50000, 60000, 70000, 80000, 90000, 100000],
        "labelExpr": "datum.value == 10000 ? '10⁴' : (datum.value == 100000 ? '10⁵' : '')",
        "labelFont": "DejaVu Sans",
        "labelFontSize": 30.5,
        "labelColor": "black",
        "labelPadding": 6,
        "labelFlush": false,
        "labelOverlap": false,
        "tickColor": "black",
        "tickSize": {"condition": {"test": "datum.value == 10000 || datum.value == 100000", "value": 9.7}, "value": 5.6},
        "tickWidth": {"condition": {"test": "datum.value == 10000 || datum.value == 100000", "value": 2.2}, "value": 1.7},
        "domainColor": "black",
        "domainWidth": 2.2,
        "grid": true,
        "gridColor": "#e4e4e4",
        "gridWidth": 2.2,
        "gridDash": [8, 4],
        "gridOpacity": {"condition": {"test": "datum.value == 10000 || datum.value == 100000", "value": 1}, "value": 0}
      }
    },
    "color": {
      "field": "serie",
      "type": "nominal",
      "scale": {"domain": ["spy", "hc", "cs", "ut"], "range": ["#1e3a8a", "#d97706", "#059669", "#7c3aed"]},
      "legend": {
        "title": null,
        "orient": "none",
        "legendX": 21,
        "legendY": 31,
        "padding": 0,
        "symbolType": "stroke",
        "symbolSize": 4356,
        "symbolStrokeWidth": 4.6,
        "clipHeight": 30,
        "rowPadding": 13.2,
        "labelOffset": 18,
        "labelFont": "DejaVu Sans",
        "labelFontSize": 30.5,
        "labelColor": "black",
        "labelLimit": 900,
        "labelExpr": "datum.value == 'spy' ? '100% SPY (benchmark)' : (datum.value == 'hc' ? '90% SPY + 10% Healthcare' : (datum.value == 'cs' ? '90% SPY + 10% Consumer Staples' : '90% SPY + 10% Utilities'))",
        "encode": {"symbols": {"update": {"strokeWidth": {"signal": "datum.value == 'spy' ? 6 : 4.6"}}}}
      }
    },
    "strokeWidth": {
      "field": "serie",
      "type": "nominal",
      "scale": {"domain": ["spy", "hc", "cs", "ut"], "range": [6, 4.6, 4.6, 4.6]},
      "legend": null
    }
  }
}
